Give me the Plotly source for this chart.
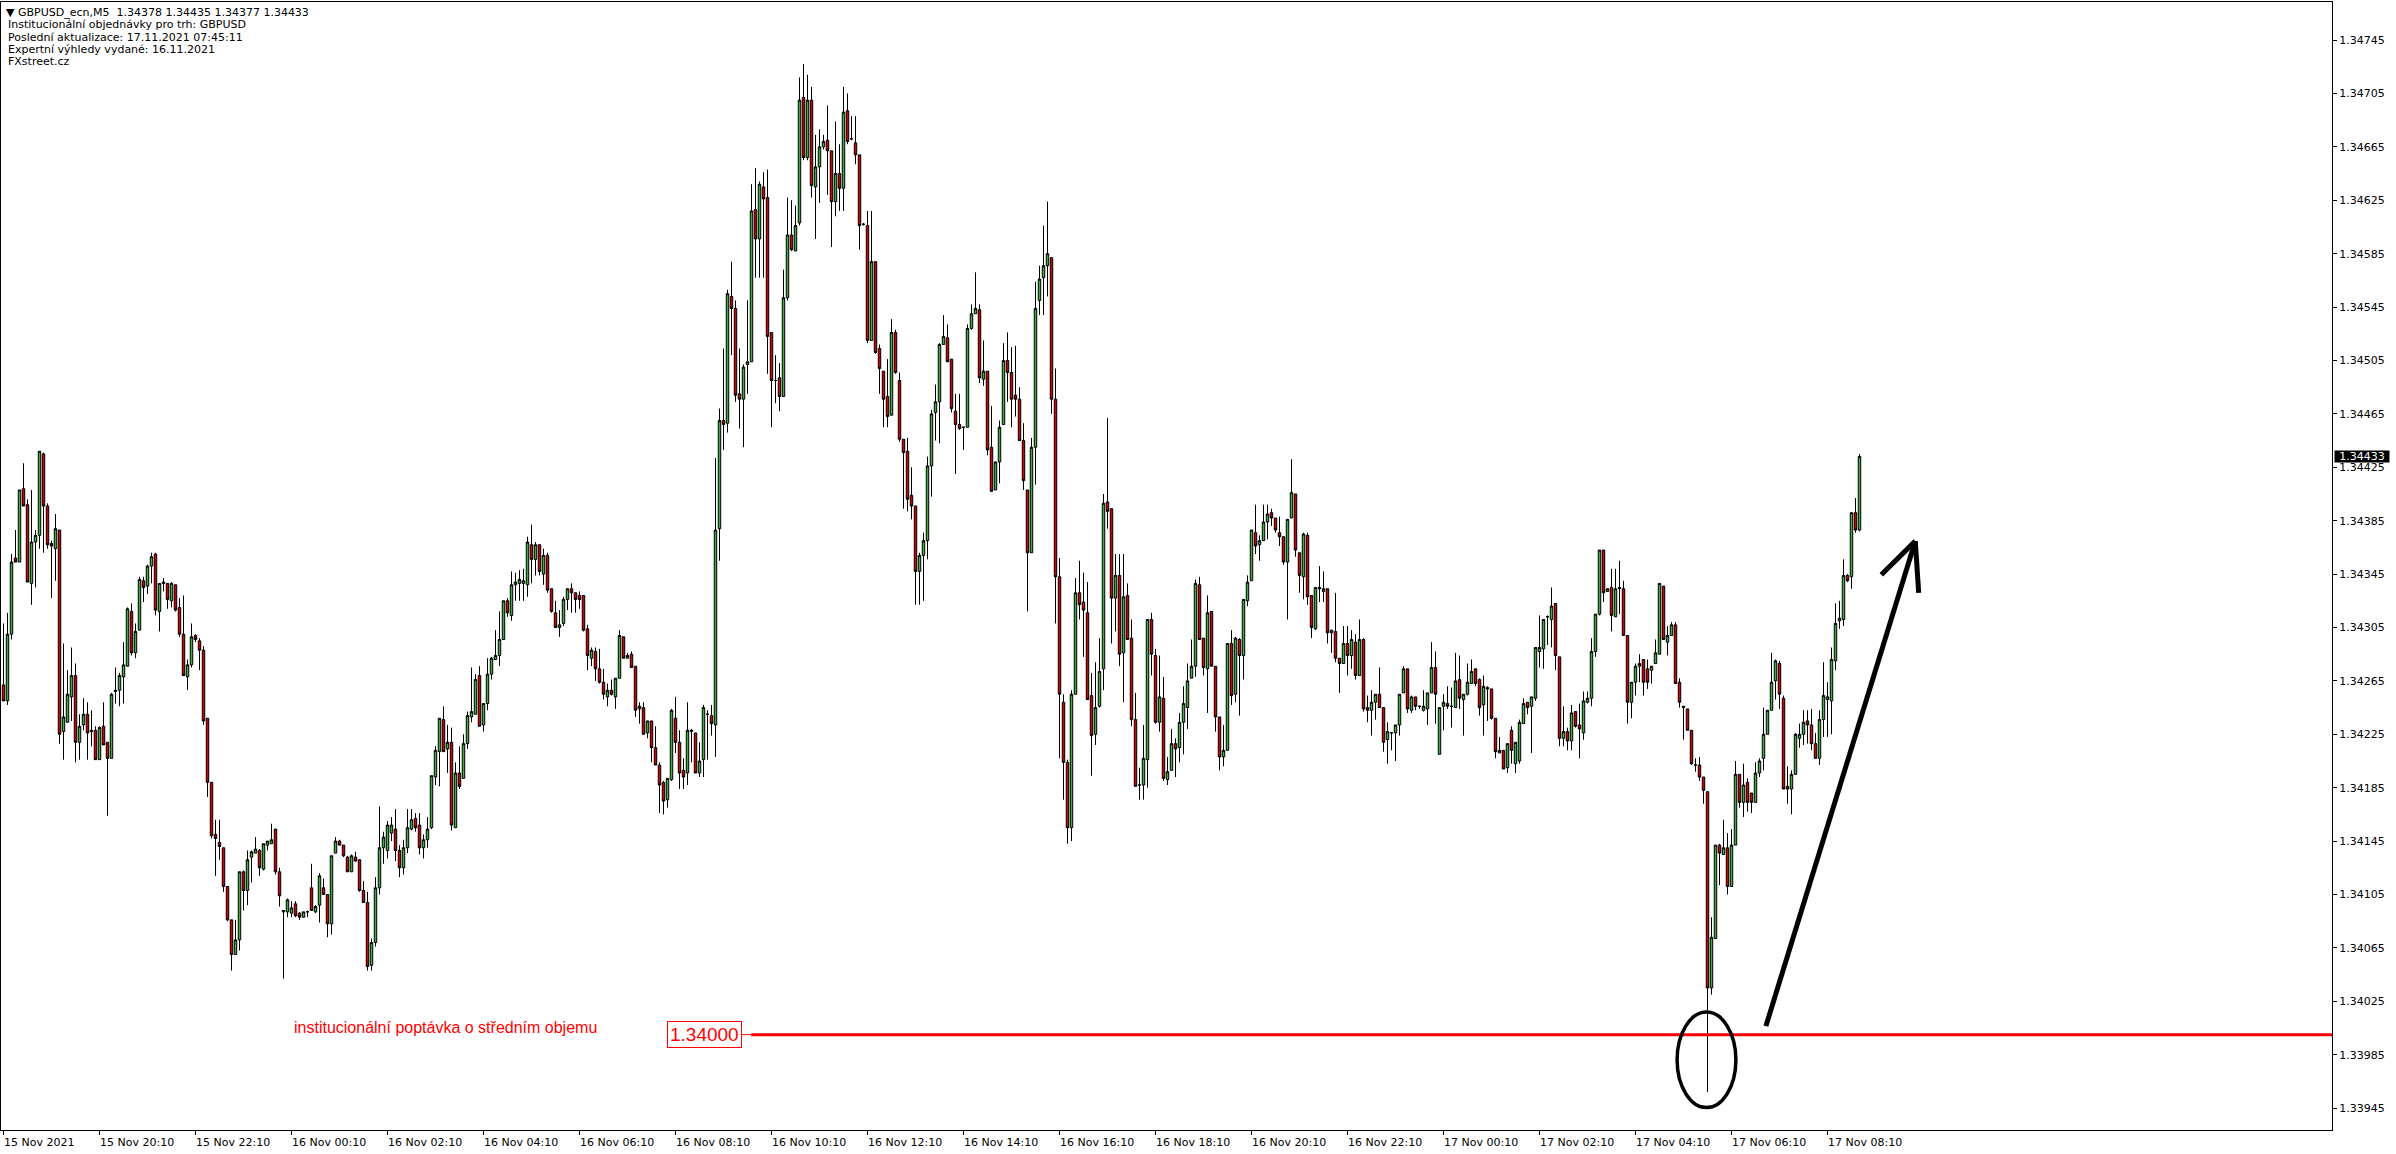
import plotly.graph_objects as go

# ---------------- data (prices in points of 0.00001 above 1.34000) ----------------
BASE = 1.34
PT = 0.00001

open_pts = [
    262, 250, 300, 357, 354, 409, 397, 338, 369, 374,
    435, 396, 368, 364, 378, 227, 234, 253, 269, 219,
    232, 240, 228, 228, 206, 231, 219, 207, 257, 258,
    268, 276, 317, 286, 303, 340, 336, 351, 360, 317,
    339, 338, 325, 337, 320, 300, 268, 277, 299, 295,
    288, 237, 189, 150, 144, 140, 111, 86, 60, 71,
    122, 108, 133, 136, 138, 124, 142, 143, 154, 122,
    92, 92, 91, 98, 91, 88, 92, 110, 92, 97,
    110, 105, 83, 136, 145, 142, 133, 122, 133, 131,
    108, 99, 52, 69, 110, 140, 138, 151, 154, 138,
    125, 140, 154, 162, 157, 140, 146, 155, 193, 212,
    236, 214, 219, 155, 196, 192, 218, 238, 240, 269,
    232, 248, 270, 281, 284, 296, 325, 314, 337, 338,
    338, 337, 367, 356, 367, 345, 359, 334, 316, 305,
    308, 326, 334, 331, 329, 329, 304, 282, 287, 274,
    264, 253, 258, 253, 267, 298, 282, 285, 276, 244,
    245, 226, 235, 215, 202, 189, 176, 191, 237, 219,
    198, 196, 227, 226, 196, 206, 240, 239, 232, 379,
    460, 458, 553, 544, 480, 476, 502, 504, 618, 596,
    635, 627, 526, 490, 492, 478, 552, 599, 587, 608,
    702, 657, 700, 635, 650, 665, 670, 662, 624, 645,
    634, 692, 671, 668, 659, 607, 606, 520, 579, 514,
    497, 478, 464, 526, 490, 446, 437, 404, 396, 347,
    359, 370, 426, 466, 474, 517, 522, 506, 467, 457,
    455, 455, 529, 540, 543, 491, 497, 440, 408, 429,
    457, 505, 496, 479, 476, 445, 408, 361, 440, 550,
    567, 576, 582, 476, 343, 249, 204, 155, 255, 331,
    324, 316, 254, 225, 246, 274, 399, 394, 327, 344,
    286, 329, 297, 236, 187, 187, 206, 311, 284, 234,
    252, 191, 198, 218, 215, 234, 245, 267, 276, 337,
    297, 274, 317, 276, 238, 208, 213, 293, 255, 296,
    284, 325, 340, 376, 367, 370, 384, 391, 387, 376,
    373, 354, 387, 405, 361, 343, 374, 329, 304, 335,
    332, 334, 301, 302, 282, 278, 293, 284, 294, 269,
    296, 245, 243, 249, 255, 245, 221, 226, 226, 232,
    256, 274, 243, 253, 246, 243, 244, 256, 275, 210,
    246, 248, 246, 245, 266, 251, 255, 263, 274, 266,
    247, 260, 259, 237, 211, 213, 200, 228, 203, 205,
    233, 249, 246, 252, 287, 289, 313, 311, 323, 283,
    222, 227, 220, 242, 232, 226, 249, 252, 287, 315,
    363, 332, 335, 313, 334, 334, 299, 249, 264, 276,
    281, 274, 273, 278, 285, 336, 294, 299, 307, 264,
    246, 244, 228, 202, 202, 193, 182, 35, 72, 142,
    135, 140, 111, 142, 195, 174, 189, 181, 174, 196,
    207, 225, 243, 265, 278, 252, 186, 184, 195, 222,
    225, 235, 232, 218, 207, 236, 251, 250, 280, 310,
    311, 344, 343, 391, 378,
]

high_pts = [
    308, 316, 360, 378, 408, 428, 401, 408, 378, 437,
    436, 398, 370, 390, 378, 293, 273, 290, 278, 240,
    252, 249, 243, 231, 231, 249, 219, 256, 275, 271,
    294, 320, 323, 308, 343, 343, 352, 361, 361, 338,
    342, 338, 339, 337, 327, 329, 281, 308, 300, 297,
    291, 237, 189, 161, 161, 140, 111, 86, 86, 122,
    123, 138, 138, 148, 139, 143, 145, 158, 154, 125,
    93, 102, 100, 100, 92, 92, 93, 128, 97, 121,
    117, 105, 134, 148, 146, 142, 134, 135, 137, 131,
    115, 107, 72, 118, 171, 152, 160, 163, 169, 142,
    146, 169, 169, 166, 166, 150, 163, 194, 216, 237,
    246, 232, 230, 204, 216, 225, 242, 275, 270, 276,
    248, 282, 283, 303, 317, 325, 327, 347, 346, 348,
    349, 373, 382, 369, 367, 364, 361, 334, 325, 318,
    328, 334, 338, 331, 332, 329, 307, 290, 290, 289,
    274, 263, 266, 267, 303, 298, 286, 287, 276, 249,
    249, 235, 235, 231, 204, 190, 192, 244, 253, 228,
    207, 249, 229, 226, 219, 247, 243, 247, 432, 469,
    514, 558, 579, 550, 514, 502, 550, 637, 649, 639,
    646, 648, 526, 509, 503, 573, 627, 625, 621, 717,
    727, 719, 710, 674, 678, 674, 696, 662, 684, 667,
    710, 705, 688, 688, 659, 608, 617, 617, 579, 517,
    497, 506, 536, 528, 496, 446, 447, 425, 396, 361,
    376, 433, 468, 487, 518, 539, 532, 506, 480, 480,
    455, 532, 547, 571, 547, 520, 497, 471, 429, 460,
    518, 526, 515, 516, 485, 458, 408, 447, 564, 576,
    606, 624, 582, 499, 357, 255, 206, 258, 342, 355,
    346, 339, 271, 279, 297, 405, 462, 394, 360, 360,
    360, 338, 311, 256, 200, 232, 311, 316, 289, 284,
    268, 208, 229, 222, 241, 261, 278, 296, 341, 343,
    297, 329, 317, 276, 238, 232, 293, 303, 298, 297,
    326, 344, 378, 397, 374, 397, 397, 394, 387, 388,
    373, 386, 431, 405, 361, 376, 376, 329, 335, 351,
    347, 334, 303, 331, 282, 306, 306, 303, 300, 311,
    297, 254, 258, 255, 275, 245, 234, 226, 232, 255,
    276, 274, 254, 253, 246, 258, 256, 294, 287, 245,
    255, 261, 260, 286, 284, 255, 278, 281, 274, 267,
    269, 261, 259, 237, 223, 213, 218, 231, 219, 236,
    252, 249, 253, 290, 314, 311, 314, 335, 323, 283,
    246, 230, 247, 242, 248, 257, 257, 297, 315, 363,
    363, 334, 349, 349, 355, 340, 299, 264, 278, 285,
    281, 281, 276, 296, 338, 336, 306, 309, 309, 267,
    246, 244, 228, 207, 208, 193, 182, 88, 142, 143,
    161, 151, 154, 205, 195, 203, 192, 181, 204, 207,
    245, 243, 286, 281, 280, 254, 201, 198, 226, 233,
    243, 243, 244, 226, 243, 279, 264, 290, 323, 325,
    356, 345, 391, 402, 435,
]

low_pts = [
    250, 247, 296, 354, 354, 396, 339, 322, 335, 364,
    361, 364, 327, 340, 218, 206, 234, 235, 204, 206,
    228, 206, 216, 206, 206, 217, 164, 207, 248, 246,
    248, 276, 284, 282, 303, 324, 330, 338, 314, 302,
    332, 319, 320, 317, 298, 269, 258, 275, 294, 273,
    232, 178, 147, 119, 131, 107, 85, 48, 60, 63,
    93, 97, 114, 136, 119, 123, 138, 143, 120, 96,
    42, 88, 88, 88, 86, 88, 88, 93, 91, 84,
    105, 73, 75, 136, 142, 133, 122, 122, 130, 107,
    99, 48, 48, 66, 105, 128, 132, 145, 130, 118,
    120, 136, 153, 152, 135, 132, 140, 154, 187, 186,
    212, 196, 153, 155, 184, 192, 214, 234, 240, 231,
    227, 243, 266, 281, 276, 296, 313, 310, 325, 325,
    325, 328, 338, 344, 344, 337, 331, 316, 305, 298,
    306, 318, 316, 316, 319, 302, 273, 276, 265, 263,
    251, 246, 254, 244, 267, 282, 282, 275, 238, 233,
    225, 222, 204, 202, 166, 165, 170, 190, 211, 184,
    184, 187, 204, 196, 193, 193, 206, 224, 208, 355,
    438, 451, 509, 474, 454, 440, 480, 504, 567, 567,
    567, 495, 455, 473, 467, 478, 550, 587, 587, 606,
    655, 655, 627, 596, 623, 663, 629, 590, 613, 617,
    617, 667, 670, 652, 588, 606, 518, 520, 510, 480,
    455, 455, 464, 495, 444, 394, 392, 386, 322, 322,
    325, 356, 403, 445, 443, 517, 504, 466, 420, 453,
    438, 455, 528, 540, 488, 486, 434, 407, 408, 413,
    457, 474, 455, 463, 445, 408, 317, 361, 412, 539,
    539, 553, 465, 308, 207, 176, 143, 145, 255, 311,
    283, 251, 194, 217, 245, 258, 379, 293, 302, 276,
    249, 296, 231, 186, 176, 176, 185, 269, 233, 227,
    190, 187, 198, 193, 204, 210, 229, 267, 268, 296,
    269, 241, 276, 227, 198, 201, 213, 247, 249, 239,
    266, 321, 340, 360, 355, 370, 371, 381, 376, 366,
    352, 311, 387, 358, 331, 326, 322, 297, 303, 324,
    324, 293, 286, 279, 256, 278, 269, 274, 266, 269,
    242, 234, 224, 236, 245, 212, 203, 213, 205, 224,
    256, 241, 241, 243, 244, 242, 232, 256, 233, 210,
    228, 244, 230, 245, 244, 224, 254, 263, 261, 239,
    224, 235, 236, 207, 211, 199, 196, 203, 196, 203,
    233, 240, 211, 250, 275, 274, 292, 290, 273, 216,
    216, 213, 213, 230, 207, 221, 248, 246, 283, 314,
    324, 332, 302, 313, 315, 299, 233, 237, 254, 264,
    254, 259, 263, 278, 285, 296, 284, 299, 263, 245,
    221, 228, 202, 197, 190, 173, -43, 30, 72, 112,
    135, 105, 111, 142, 170, 163, 167, 166, 174, 193,
    198, 225, 243, 251, 244, 184, 173, 165, 195, 215,
    217, 218, 213, 207, 202, 223, 223, 225, 273, 304,
    306, 339, 334, 376, 377,
]

close_pts = [
    250, 300, 354, 354, 408, 396, 339, 369, 374, 437,
    396, 367, 366, 379, 225, 238, 255, 269, 219, 231,
    240, 226, 227, 206, 230, 217, 207, 255, 258, 269,
    277, 319, 286, 302, 341, 335, 351, 358, 318, 338,
    338, 326, 338, 318, 300, 269, 277, 298, 296, 288,
    235, 189, 149, 147, 141, 111, 86, 60, 71, 122,
    108, 131, 137, 139, 125, 143, 145, 146, 122, 104,
    93, 101, 95, 89, 88, 92, 92, 93, 96, 119,
    105, 83, 134, 145, 142, 134, 122, 134, 130, 108,
    99, 51, 69, 110, 140, 148, 157, 157, 138, 125,
    140, 155, 161, 155, 140, 146, 154, 194, 213, 237,
    212, 219, 157, 196, 186, 218, 239, 242, 266, 231,
    248, 270, 282, 284, 296, 325, 316, 337, 339, 341,
    340, 369, 356, 367, 347, 359, 333, 317, 305, 307,
    326, 334, 331, 326, 326, 303, 284, 288, 274, 264,
    255, 258, 255, 267, 299, 282, 284, 275, 243, 246,
    225, 235, 215, 202, 187, 175, 192, 243, 219, 196,
    193, 228, 228, 196, 205, 245, 240, 233, 378, 460,
    457, 555, 544, 479, 476, 500, 504, 617, 596, 637,
    626, 523, 490, 490, 478, 552, 599, 588, 606, 700,
    657, 700, 636, 650, 665, 669, 662, 624, 645, 634,
    691, 669, 671, 659, 606, 607, 520, 579, 511, 499,
    476, 463, 526, 496, 446, 436, 401, 396, 347, 359,
    370, 426, 465, 474, 517, 523, 504, 469, 457, 454,
    455, 529, 540, 544, 492, 497, 438, 407, 429, 455,
    505, 496, 476, 476, 445, 415, 361, 440, 544, 566,
    576, 585, 476, 343, 255, 204, 155, 255, 331, 322,
    318, 251, 224, 245, 272, 398, 392, 327, 344, 285,
    328, 296, 236, 186, 187, 207, 311, 285, 234, 253,
    192, 197, 218, 214, 234, 248, 265, 276, 338, 296,
    275, 316, 276, 238, 208, 213, 293, 254, 297, 284,
    326, 339, 378, 366, 370, 384, 390, 387, 378, 373,
    354, 386, 406, 363, 344, 375, 328, 305, 335, 334,
    334, 301, 303, 282, 278, 293, 284, 296, 269, 296,
    244, 243, 249, 255, 245, 219, 227, 226, 232, 255,
    274, 244, 253, 246, 246, 246, 256, 275, 255, 245,
    249, 246, 246, 265, 252, 255, 264, 272, 263, 245,
    261, 259, 237, 212, 213, 199, 218, 213, 219, 234,
    248, 245, 253, 290, 290, 311, 313, 321, 284, 222,
    227, 220, 241, 231, 229, 250, 252, 287, 315, 363,
    331, 334, 314, 334, 335, 299, 249, 264, 276, 278,
    264, 264, 276, 286, 338, 296, 299, 307, 263, 249,
    245, 228, 203, 202, 193, 183, 35, 73, 142, 136,
    140, 111, 142, 195, 174, 187, 174, 174, 196, 205,
    225, 243, 264, 280, 255, 184, 184, 195, 225, 225,
    234, 232, 218, 207, 236, 254, 253, 281, 308, 312,
    344, 340, 391, 378, 433,
]

time_labels = [
    "15 Nov 2021", "15 Nov 20:10", "15 Nov 22:10", "16 Nov 00:10", "16 Nov 02:10",
    "16 Nov 04:10", "16 Nov 06:10", "16 Nov 08:10", "16 Nov 10:10", "16 Nov 12:10",
    "16 Nov 14:10", "16 Nov 16:10", "16 Nov 18:10", "16 Nov 20:10", "16 Nov 22:10",
    "17 Nov 00:10", "17 Nov 02:10", "17 Nov 04:10", "17 Nov 06:10", "17 Nov 08:10",
]
BARS_PER_LABEL = 24  # 2 hours of M5 bars

price_labels = [
    "1.33945", "1.33985", "1.34025", "1.34065", "1.34105", "1.34145", "1.34185",
    "1.34225", "1.34265", "1.34305", "1.34345", "1.34385", "1.34425", "1.34465",
    "1.34505", "1.34545", "1.34585", "1.34625", "1.34665", "1.34705", "1.34745",
]

header_lines = [
    "Institucionální objednávky pro trh: GBPUSD",
    "Poslední aktualizace: 17.11.2021 07:45:11",
    "Expertní výhledy vydané: 16.11.2021",
    "FXstreet.cz",
]
level_price = 1.34000
level_text = "institucionální poptávka o středním objemu"

# ---------------- build ----------------
n = len(close_pts)
assert len(open_pts) == n and len(high_pts) == n and len(low_pts) == n, (
    len(open_pts), len(high_pts), len(low_pts), n)

to_price = lambda seq: [round(BASE + v * PT, 5) for v in seq]
O, H, L, C = to_price(open_pts), to_price(high_pts), to_price(low_pts), to_price(close_pts)
xs = list(range(n))

GREEN = "#3fae3f"
RED = "#d00000"
FONT = "DejaVu Sans"

W, Hh = 2396, 1154
ML, MR, MT, MB = 1, 64, 2, 24
px_per_bar = 4.0
x_min = -0.625
x_max = x_min + (W - ML - MR) / px_per_bar
y_max = 1.347735
y_min = 1.339286

fig = go.Figure(go.Candlestick(
    x=xs, open=O, high=H, low=L, close=C,
    increasing=dict(line=dict(color="black", width=1), fillcolor=GREEN),
    decreasing=dict(line=dict(color="black", width=1), fillcolor=RED),
    whiskerwidth=0, hoverinfo="skip", showlegend=False,
))

tick_bars = [i * BARS_PER_LABEL for i in range(len(time_labels))]

fig.update_layout(
    width=W, height=Hh,
    margin=dict(l=ML, r=MR, t=MT, b=MB, pad=0),
    paper_bgcolor="white", plot_bgcolor="white",
    boxgap=0.12,
    showlegend=False,
    font=dict(family=FONT, size=11, color="black"),
    xaxis=dict(
        range=[x_min, x_max], showgrid=False, zeroline=False,
        showline=True, linecolor="black", linewidth=1, mirror=True,
        ticks="outside", ticklen=4, tickcolor="black", tickwidth=1,
        tickvals=tick_bars, showticklabels=False,
        rangeslider=dict(visible=False), fixedrange=True,
    ),
    yaxis=dict(
        range=[y_min, y_max], side="right", showgrid=False, zeroline=False,
        showline=True, linecolor="black", linewidth=1, mirror=True,
        ticks="outside", ticklen=4, tickcolor="black", tickwidth=1,
        tickvals=[float(s) for s in price_labels], ticktext=price_labels,
        tickfont=dict(family=FONT, size=11, color="black"),
        fixedrange=True,
    ),
)

annotations = []
# time labels, left-aligned at their tick like MT4
for b, lab in zip(tick_bars, time_labels):
    annotations.append(dict(
        x=b, xref="x", y=0, yref="paper", text=lab, showarrow=False,
        xanchor="left", yanchor="top", xshift=-2, yshift=-4,
        font=dict(family=FONT, size=11, color="black"),
    ))

# header text
first_line = "▼ GBPUSD_ecn,M5\u00a0\u00a0%.5f %.5f %.5f %.5f" % (O[-1], H[-1], L[-1], C[-1])
for k, line in enumerate([first_line] + header_lines):
    annotations.append(dict(
        x=0, xref="paper", y=1, yref="paper", text=line, showarrow=False,
        xanchor="left", yanchor="middle", xshift=(3 if k == 0 else 5),
        yshift=-(10.7 + 12.2 * k),
        font=dict(family=FONT, size=11, color="black"),
    ))

# current price marker
annotations.append(dict(
    x=1, xref="paper", y=C[-1], yref="y", text="%.5f" % C[-1], showarrow=False,
    xanchor="left", yanchor="middle", xshift=2, bgcolor="black",
    font=dict(family=FONT, size=11, color="white"), borderpad=0, width=54, height=11,
))

# level box + caption
box_right_bar = 184.6
line_start_bar = 186.9
annotations.append(dict(
    x=box_right_bar, xref="x", y=level_price, yref="y", text="%.5f" % level_price,
    showarrow=False, xanchor="right", yanchor="middle",
    font=dict(family="Liberation Sans", size=19, color="#ff0000"),
    bgcolor="white", bordercolor="#ff0000", borderwidth=1, borderpad=2,
))
annotations.append(dict(
    x=72.1, xref="x", y=1.340057, yref="y", text=level_text, showarrow=False,
    xanchor="left", yanchor="middle",
    font=dict(family="Liberation Sans", size=16, color="#ff0000"),
))
fig.update_layout(annotations=annotations)

shapes = [
    dict(type="line", xref="x", yref="y", x0=box_right_bar, x1=line_start_bar,
         y0=level_price, y1=level_price, line=dict(color="#ff0000", width=1)),
    dict(type="line", xref="x", yref="y", x0=line_start_bar, x1=x_max,
         y0=level_price, y1=level_price, line=dict(color="#ff0000", width=3)),
    # ellipse round the spike
    dict(type="circle", xref="x", yref="y", x0=418.4, x1=433.1,
         y0=1.339454, y1=1.340169, line=dict(color="black", width=3.5)),
    # hand-drawn arrow
    dict(type="line", xref="x", yref="y", x0=440.6, y0=1.340064, x1=477.95, y1=1.343697,
         line=dict(color="black", width=5)),
    dict(type="line", xref="x", yref="y", x0=469.45, y0=1.343445, x1=477.95, y1=1.343697,
         line=dict(color="black", width=5)),
    dict(type="line", xref="x", yref="y", x0=478.8, y0=1.343309, x1=477.95, y1=1.343697,
         line=dict(color="black", width=5)),
]
fig.update_layout(shapes=shapes)

fig.write_html(
    "out.html",
    config=dict(displayModeBar=False, staticPlot=True),
    post_script="document.body.style.margin='0px';document.body.style.overflow='hidden';",
)
